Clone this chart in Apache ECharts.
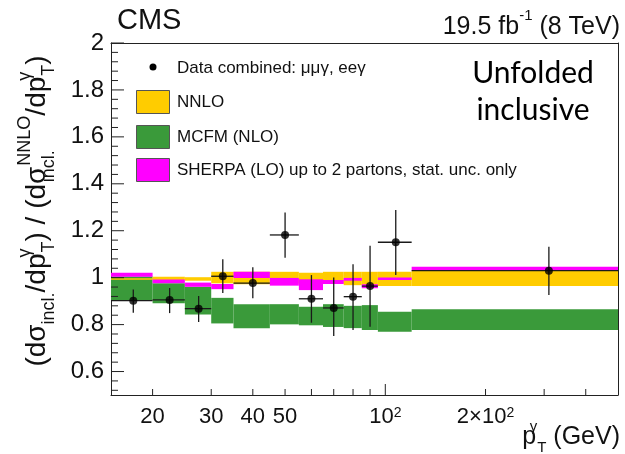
<!DOCTYPE html>
<html>
<head>
<meta charset="utf-8">
<script src="https://cdn.jsdelivr.net/npm/echarts@6/dist/echarts.min.js"></script>
<style>
  html, body { margin: 0; padding: 0; background: #fff; }
  #c { width: 625px; height: 454px; }
</style>
</head>
<body>
<div id="c"></div>
<script>
// photon pT bins (GeV)
const binLo = [15, 20, 25, 30, 35, 45, 55, 65, 75, 85, 95, 120];
const binHi = [20, 25, 30, 35, 45, 55, 65, 75, 85, 95, 120, 500];

// measured ratio to NNLO, with total uncertainty band ends
const dataX  = [17.5, 22.5, 27.5, 32.5, 40, 50, 60, 70, 80, 90, 107.5, 310];
const dataY  = [0.902, 0.905, 0.868, 1.006, 0.977, 1.182, 0.910, 0.871, 0.919, 0.964, 1.151, 1.030];
const dataLo = [0.850, 0.849, 0.811, 0.935, 0.912, 1.085, 0.808, 0.751, 0.777, 0.791, 1.011, 0.926];
const dataHi = [0.950, 0.956, 0.922, 1.079, 1.044, 1.278, 1.011, 1.001, 1.057, 1.136, 1.288, 1.132];

// theory predictions, ratio to NNLO (band low / high)
const nnloLo   = [0.991, 0.990, 0.987, 0.976, 0.972, 0.975, 0.975, 0.975, 0.968, 0.968, 0.964, 0.964];
const nnloHi   = [0.997, 1.004, 1.002, 1.025, 1.025, 1.025, 1.021, 1.025, 1.025, 1.025, 1.025, 1.030];
const mcfmLo   = [0.905, 0.891, 0.843, 0.805, 0.784, 0.801, 0.797, 0.790, 0.785, 0.777, 0.770, 0.777];
const mcfmHi   = [1.005, 0.976, 0.961, 0.914, 0.887, 0.887, 0.876, 0.887, 0.880, 0.883, 0.855, 0.865];
const sherpaLo = [1.004, 0.976, 0.961, 0.951, 0.999, 0.966, 0.947, 0.973, 0.987, 0.955, 0.990, 1.030];
const sherpaHi = [1.021, 0.992, 0.979, 0.973, 1.025, 0.999, 0.993, 0.990, 0.999, 0.972, 1.001, 1.047];

// axis ticks and labels
const xTickValues  = [20, 30, 40, 50, 60, 70, 80, 90, 100, 200, 300, 400];
const xLabelValues = [20, 30, 40, 50, 100, 200];
const yLabelValues = [0.6, 0.8, 1.0, 1.2, 1.4, 1.6, 1.8, 2.0];

const FONT = 'Liberation Sans';
const X_MIN = 15, X_MAX = 500, Y_MIN = 0.5, Y_MAX = 2;
const FRAME = '#222';

const COLORS = { nnlo: '#ffcc00', mcfm: '#3a9a3a', sherpa: '#ff00ff' };

function bandSeries(name, lo, hi, color, z) {
  return {
    name: name,
    type: 'custom',
    z: z,
    silent: true,
    data: binLo.map((b, i) => [b, binHi[i], lo[i], hi[i]]),
    encode: { x: [0, 1], y: [2, 3] },
    renderItem: function (params, api) {
      const p0 = api.coord([api.value(0), api.value(3)]);
      const p1 = api.coord([api.value(1), api.value(2)]);
      return {
        type: 'rect',
        shape: { x: p0[0], y: p0[1], width: p1[0] - p0[0], height: p1[1] - p0[1] },
        style: { fill: color }
      };
    }
  };
}

// minor y ticks every 0.04
const yTickValues = [];
for (let k = 0; k <= 37; k++) yTickValues.push(+(0.52 + 0.04 * k).toFixed(2));

const frameAxisX = {
  type: 'log', logBase: 10, min: X_MIN, max: X_MAX,
  axisLine: { show: true, onZero: false, lineStyle: { color: FRAME, width: 1 } },
  axisTick: { show: false }, splitLine: { show: false }, minorTick: { show: false }
};
const frameAxisY = {
  type: 'value', min: Y_MIN, max: Y_MAX,
  axisLine: { show: true, onZero: false, lineStyle: { color: FRAME, width: 1 } },
  axisTick: { show: false }, splitLine: { show: false }
};

const option = {
  animation: false,
  backgroundColor: '#fff',
  grid: {
    left: 111, right: 7, top: 43, bottom: 59,
    containLabel: false, outerBoundsMode: 'none'
  },
  xAxis: [
    Object.assign({}, frameAxisX, {
      position: 'bottom',
      axisLabel: {
        customValues: xLabelValues,
        margin: 11,
        color: '#111',
        fontFamily: FONT,
        fontSize: 22,
        formatter: function (v) {
          if (Math.abs(v - 100) < 1e-6) return '10{s|2}';
          if (Math.abs(v - 200) < 1e-6) return '2\u00d710{s|2}';
          return String(Math.round(v));
        },
        rich: {
          s: { fontSize: 14, fontFamily: FONT, color: '#111', verticalAlign: 'top', lineHeight: 14 }
        }
      }
    }),
    Object.assign({}, frameAxisX, { position: 'top', axisLabel: { show: false } })
  ],
  yAxis: [
    Object.assign({}, frameAxisY, {
      position: 'left',
      axisLabel: {
        customValues: yLabelValues,
        margin: 7,
        color: '#111',
        fontFamily: FONT,
        fontSize: 24,
        formatter: function (v) {
          const r = Math.round(v * 10) / 10;
          return (r === 1 || r === 2) ? String(r) : r.toFixed(1);
        }
      }
    }),
    Object.assign({}, frameAxisY, { position: 'right', axisLabel: { show: false } })
  ],
  series: [
    bandSeries('MCFM (NLO)', mcfmLo, mcfmHi, COLORS.mcfm, 2),
    bandSeries('NNLO', nnloLo, nnloHi, COLORS.nnlo, 3),
    bandSeries('SHERPA (LO)', sherpaLo, sherpaHi, COLORS.sherpa, 4),
    {
      // data error bars (bin width and total uncertainty)
      type: 'custom', z: 6, silent: true,
      data: dataX.map((x, i) => [x, dataY[i], dataLo[i], dataHi[i], binLo[i], binHi[i]]),
      renderItem: function (params, api) {
        const c = api.coord([api.value(0), api.value(1)]);
        const lo = api.coord([api.value(0), api.value(2)]);
        const hi = api.coord([api.value(0), api.value(3)]);
        const l = api.coord([api.value(4), api.value(1)]);
        const r = api.coord([api.value(5), api.value(1)]);
        const st = { stroke: '#1a1a1a', lineWidth: 1.3 };
        return {
          type: 'group',
          children: [
            { type: 'line', shape: { x1: lo[0], y1: lo[1], x2: hi[0], y2: hi[1] }, style: st },
            { type: 'line', shape: { x1: l[0], y1: c[1], x2: r[0], y2: c[1] }, style: st }
          ]
        };
      }
    },
    {
      name: 'Data', type: 'scatter', z: 7, silent: true,
      symbol: 'circle', symbolSize: 8,
      itemStyle: { color: '#000' },
      data: dataX.map((x, i) => [x, dataY[i]])
    },
    {
      // x-axis ticks, drawn inward from the bottom frame
      type: 'custom', z: 10, silent: true,
      data: xTickValues.map(v => [v, Y_MIN]),
      renderItem: function (params, api) {
        const v = api.value(0);
        const p = api.coord([v, Y_MIN]);
        const len = Math.abs(v - 100) < 1e-6 ? 11 : 6;
        return { type: 'line', shape: { x1: p[0], y1: p[1], x2: p[0], y2: p[1] - len },
                 style: { stroke: FRAME, lineWidth: 1 } };
      }
    },
    {
      // y-axis ticks, drawn inward from the left frame
      type: 'custom', z: 10, silent: true,
      data: yTickValues.map(v => [X_MIN, v]),
      renderItem: function (params, api) {
        const v = api.value(1);
        const p = api.coord([X_MIN, v]);
        const major = Math.abs(Math.round(v * 5) - v * 5) < 1e-6;
        const len = major ? 13 : 7;
        return { type: 'line', shape: { x1: p[0], y1: p[1], x2: p[0] + len, y2: p[1] },
                 style: { stroke: FRAME, lineWidth: 1 } };
      }
    }
  ],
  graphic: [
    { type: 'text', left: 117, top: 6, z: 20,
      style: { text: 'CMS', font: '29px "' + FONT + '"', fill: '#111' } },
    { type: 'text', z: 20, x: 620, y: 24,
      style: {
        text: '{m|19.5 fb}{s|-1}{m| (8 TeV)}',
        align: 'right', verticalAlign: 'middle',
        rich: {
          m: { fontSize: 25, fontFamily: FONT, fill: '#111', lineHeight: 32, verticalAlign: 'bottom' },
          s: { fontSize: 15, fontFamily: FONT, fill: '#111', lineHeight: 15, verticalAlign: 'top' }
        }
      } },
    // y-axis title
    { type: 'text', z: 20, x: 37, y: 211, rotation: Math.PI / 2,
      style: {
        text: '{m|(d}{m|\u03c3}{b|incl.}{m|/dp}{tw|\u03b3}{b|T}{m|) / (d}{m|\u03c3}{bw|incl.}{t|NNLO}{m|/dp}{tw|\u03b3}{b|T}{m|)}',
        align: 'center', verticalAlign: 'middle',
        rich: {
          m: { fontSize: 28, fontFamily: FONT, fill: '#111', lineHeight: 42 },
          b: { fontSize: 18, fontFamily: FONT, fill: '#111', lineHeight: 18, verticalAlign: 'bottom' },
          bw: { fontSize: 18, fontFamily: FONT, fill: '#111', lineHeight: 18, verticalAlign: 'bottom', width: 1 },
          t: { fontSize: 18, fontFamily: FONT, fill: '#111', lineHeight: 18, verticalAlign: 'top' },
          tw: { fontSize: 18, fontFamily: FONT, fill: '#111', lineHeight: 18, verticalAlign: 'top', width: 1 }
        }
      } },
    // x-axis title
    { type: 'text', z: 20, x: 620, y: 437,
      style: {
        text: '{m|p}{tw|\u03b3}{b|T}{m| (GeV)}',
        align: 'right', verticalAlign: 'middle',
        rich: {
          m: { fontSize: 25, fontFamily: FONT, fill: '#111', lineHeight: 36 },
          b: { fontSize: 15, fontFamily: FONT, fill: '#111', lineHeight: 15, verticalAlign: 'bottom' },
          tw: { fontSize: 15, fontFamily: FONT, fill: '#111', lineHeight: 15, verticalAlign: 'top', width: 1 }
        }
      } },
    // legend
    { type: 'circle', z: 20, shape: { cx: 153, cy: 67, r: 3.5 }, style: { fill: '#000' } },
    { type: 'text', z: 20, x: 177, y: 68,
      style: { text: 'Data combined: \u03bc\u03bc\u03b3, ee\u03b3', font: '17px "' + FONT + '"', fill: '#111', verticalAlign: 'middle' } },
    { type: 'rect', z: 20, shape: { x: 136.5, y: 90.5, width: 33, height: 23 },
      style: { fill: COLORS.nnlo, stroke: '#555', lineWidth: 1 } },
    { type: 'text', z: 20, x: 177, y: 102,
      style: { text: 'NNLO', font: '17px "' + FONT + '"', fill: '#111', verticalAlign: 'middle' } },
    { type: 'rect', z: 20, shape: { x: 136.5, y: 125.5, width: 33, height: 23 },
      style: { fill: COLORS.mcfm, stroke: '#555', lineWidth: 1 } },
    { type: 'text', z: 20, x: 177, y: 137,
      style: { text: 'MCFM (NLO)', font: '17px "' + FONT + '"', fill: '#111', verticalAlign: 'middle' } },
    { type: 'rect', z: 20, shape: { x: 136.5, y: 158.5, width: 33, height: 23 },
      style: { fill: COLORS.sherpa, stroke: '#555', lineWidth: 1 } },
    { type: 'text', z: 20, x: 177, y: 170,
      style: { text: 'SHERPA (LO) up to 2 partons, stat. unc. only', font: '17px "' + FONT + '"', fill: '#111', verticalAlign: 'middle' } },
    // analysis label
    { type: 'text', z: 20, x: 533, y: 73,
      style: { text: 'Unfolded', font: '30px Lato', fill: '#000', align: 'center', verticalAlign: 'middle' } },
    { type: 'text', z: 20, x: 533, y: 110,
      style: { text: 'inclusive', font: '30px Lato', fill: '#000', align: 'center', verticalAlign: 'middle' } }
  ]
};

const chart = echarts.init(document.getElementById('c'), null, { renderer: 'canvas' });
chart.setOption(option);
</script>
</body>
</html>
